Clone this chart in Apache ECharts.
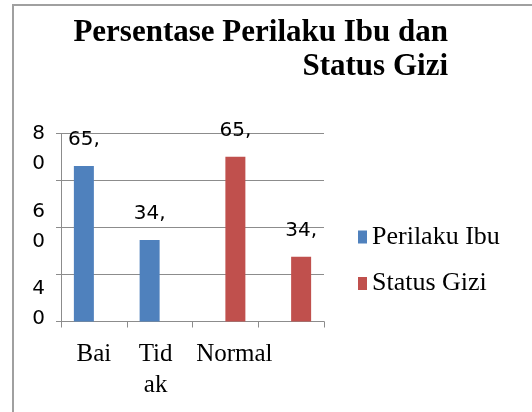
<!DOCTYPE html>
<html>
<head>
<meta charset="utf-8">
<script src="https://cdn.jsdelivr.net/npm/echarts@6/dist/echarts.min.js"></script>
<style>html,body{margin:0;padding:0;background:#fff}#c{width:532px;height:412px}</style>
</head>
<body>
<div id="c"></div>
<script>
const titleText = 'Persentase Perilaku Ibu dan\nStatus Gizi';
const categories = ['Bai', 'Tid\nak', 'Normal', ''];
const seriesNames = ['Perilaku Ibu', 'Status Gizi'];
const perilakuIbu = [66.2, 34.7, null, null];
const statusGizi = [null, null, 70.1, 27.6];
const perilakuLabels = ['65,', '34,', '', ''];
const statusLabels = ['', '', '65,', '34,'];
const yTickValues = [0, 20, 40, 60, 80];
const yLabelValues = [40, 60, 80];

const chart = echarts.init(document.getElementById('c'), null, {renderer: 'canvas'});
const serif = 'Liberation Serif, Times New Roman, serif';
const sans = 'DejaVu Sans, sans-serif';
const gridColor = '#8c8c8c';
const catStyle = ['c0', 'c1', 'c2', 'c0'];

chart.setOption({
  animation: false,
  backgroundColor: '#fff',
  graphic: [{
    type: 'rect', silent: true, z: -1,
    shape: {x: 13, y: 5, width: 560, height: 440},
    style: {fill: 'none', stroke: '#a0a0a0', lineWidth: 2}
  }],
  title: {
    text: titleText,
    left: 443, top: 10.5, textAlign: 'right',
    textStyle: {fontFamily: serif, fontWeight: 'bold', fontSize: 31, lineHeight: 34, color: '#000', align: 'right'}
  },
  legend: {
    orient: 'vertical', left: 353, top: 219,
    itemWidth: 9, itemHeight: 13, itemGap: 20.5,
    icon: 'rect',
    data: seriesNames,
    textStyle: {fontFamily: serif, fontSize: 26, lineHeight: 26, color: '#000'}
  },
  grid: {left: 61, right: 208, top: 133.5, bottom: 90.5, containLabel: false},
  xAxis: {
    type: 'category', data: categories, boundaryGap: true,
    axisLine: {lineStyle: {color: gridColor, width: 1}},
    axisTick: {show: true, length: 6, alignWithLabel: false, lineStyle: {color: gridColor}},
    axisLabel: {
      interval: 0, margin: 17, fontFamily: serif, fontSize: 25, lineHeight: 31, color: '#000',
      formatter: (v, i) => v === '' ? '' : v.split('\n').map(s => '{' + catStyle[i] + '|' + s + '}').join('\n'),
      rich: {
        c0: {fontFamily: serif, fontSize: 25, lineHeight: 31, color: '#000'},
        c1: {fontFamily: serif, fontSize: 25, lineHeight: 31, color: '#000', padding: [0, 8, 0, 0]},
        c2: {fontFamily: serif, fontSize: 25, lineHeight: 31, color: '#000', padding: [0, 0, 0, 18]}
      }
    }
  },
  yAxis: [{
    type: 'value', min: 0, max: 80, interval: 20,
    axisLine: {show: true, lineStyle: {color: gridColor, width: 1}},
    axisTick: {show: true, length: 5, lineStyle: {color: gridColor}},
    splitLine: {show: true, lineStyle: {color: gridColor, width: 1}},
    axisLabel: {show: false}
  }, {
    type: 'value', position: 'left', min: 35.4, max: 84,
    axisLine: {show: false}, axisTick: {show: false}, splitLine: {show: false},
    axisLabel: {
      customValues: yLabelValues,
      margin: 16, fontFamily: sans, fontSize: 20, lineHeight: 30, color: '#000',
      formatter: v => String(Math.round(v)).split('').join('\n')
    }
  }],
  series: [{
    name: seriesNames[0], type: 'bar', data: perilakuIbu, yAxisIndex: 0,
    barWidth: 20, barGap: '0%',
    itemStyle: {color: '#4F81BD'},
    label: {show: true, position: 'top', distance: 16, fontFamily: sans, fontSize: 20, color: '#000',
      formatter: p => perilakuLabels[p.dataIndex]}
  }, {
    name: seriesNames[1], type: 'bar', data: statusGizi, yAxisIndex: 0,
    barWidth: 20, barGap: '0%',
    itemStyle: {color: '#C0504D'},
    label: {show: true, position: 'top', distance: 16, fontFamily: sans, fontSize: 20, color: '#000',
      formatter: p => statusLabels[p.dataIndex]}
  }]
});
</script>
</body>
</html>
